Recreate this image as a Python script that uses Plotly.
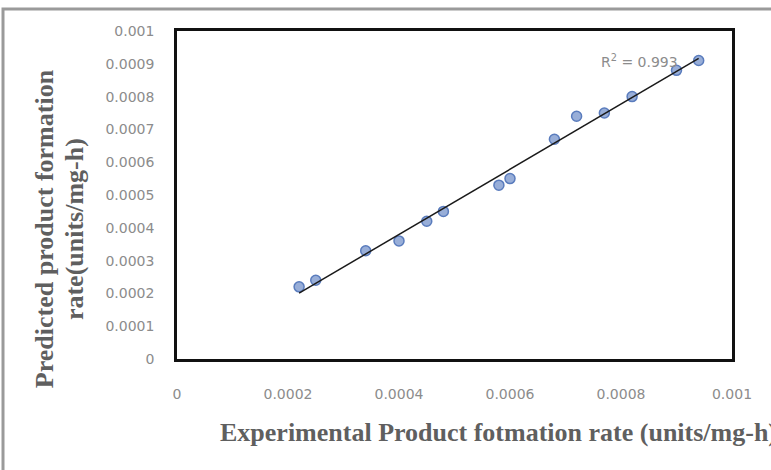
import numpy as np
import plotly.graph_objects as go

# Experimental vs predicted product formation rates (units/mg-h)
experimental = [0.00022, 0.00025, 0.00034, 0.00040, 0.00045, 0.00048, 0.00058,
                0.00060, 0.00068, 0.00072, 0.00077, 0.00082, 0.00090, 0.00094]
predicted = [0.00022, 0.00024, 0.00033, 0.00036, 0.00042, 0.00045, 0.00053,
             0.00055, 0.00067, 0.00074, 0.00075, 0.00080, 0.00088, 0.00091]
r_squared_label = "R<sup>2</sup> = 0.993"

x_ticks = [0, 0.0002, 0.0004, 0.0006, 0.0008, 0.001]
x_tick_text = ["0", "0.0002", "0.0004", "0.0006", "0.0008", "0.001"]
y_ticks = [0, 0.0001, 0.0002, 0.0003, 0.0004, 0.0005, 0.0006, 0.0007, 0.0008, 0.0009, 0.001]
y_tick_text = ["0", "0.0001", "0.0002", "0.0003", "0.0004", "0.0005", "0.0006",
               "0.0007", "0.0008", "0.0009", "0.001"]

# Linear trendline through the data
slope, intercept = np.polyfit(experimental, predicted, 1)
x_fit = np.array([min(experimental), max(experimental)])
y_fit = slope * x_fit + intercept

fig = go.Figure()
fig.add_trace(go.Scatter(
    x=experimental, y=predicted, mode="markers",
    marker=dict(size=10, color="#98aed8", line=dict(color="#5a7cbd", width=1.5)),
    showlegend=False,
))
fig.add_trace(go.Scatter(
    x=x_fit, y=y_fit, mode="lines",
    line=dict(color="#1a1a1a", width=1.5),
    showlegend=False,
))

tick_font = dict(family="DejaVu Sans, sans-serif", size=14, color="#8c8c8c")
title_font = dict(family="Liberation Serif, Times New Roman, serif", size=26, color="#5f5f5f")

fig.update_xaxes(
    range=[0, 0.001], tickvals=x_ticks, ticktext=x_tick_text,
    showgrid=False, zeroline=False,
    showline=True, mirror=True, linecolor="#111111", linewidth=2.5,
    ticks="outside", ticklen=20, tickcolor="rgba(0,0,0,0)",
    tickfont=tick_font,
)
fig.update_yaxes(
    range=[0, 0.001], tickvals=y_ticks, ticktext=y_tick_text,
    showgrid=False, zeroline=False,
    showline=True, mirror=True, linecolor="#111111", linewidth=2.5,
    ticks="outside", ticklen=17, tickcolor="rgba(0,0,0,0)",
    tickfont=tick_font,
)

fig.add_annotation(
    x=0.000834, y=0.000909, xref="x", yref="y", text=r_squared_label,
    showarrow=False, font=dict(family="DejaVu Sans, sans-serif", size=14, color="#8c8c8c"),
)

# Y axis title, two rotated lines
fig.add_annotation(
    x=-0.2396, y=0.396, xref="paper", yref="paper",
    text="<b>Predicted product formation</b>",
    textangle=-90, showarrow=False, xanchor="center", yanchor="middle",
    font=title_font,
)
fig.add_annotation(
    x=-0.1856, y=0.396, xref="paper", yref="paper",
    text="<b>rate(units/mg-h)</b>",
    textangle=-90, showarrow=False, xanchor="center", yanchor="middle",
    font=title_font,
)
fig.add_annotation(
    x=0.580, y=-0.2226, xref="paper", yref="paper",
    text="<b>Experimental Product fotmation rate (units/mg-h)</b>",
    showarrow=False, xanchor="center", yanchor="middle",
    font=title_font,
)

# Outer chart border
fig.add_shape(
    type="rect", xref="paper", yref="paper",
    x0=-0.3135, x1=1.3, y0=-0.45, y1=1.067,
    line=dict(color="#9a9a9a", width=3), fillcolor="rgba(0,0,0,0)", layer="below",
)

fig.update_layout(
    width=771, height=470,
    margin=dict(l=177, r=39, t=31, b=111),
    paper_bgcolor="white", plot_bgcolor="white",
)

fig.write_html("out.html")
